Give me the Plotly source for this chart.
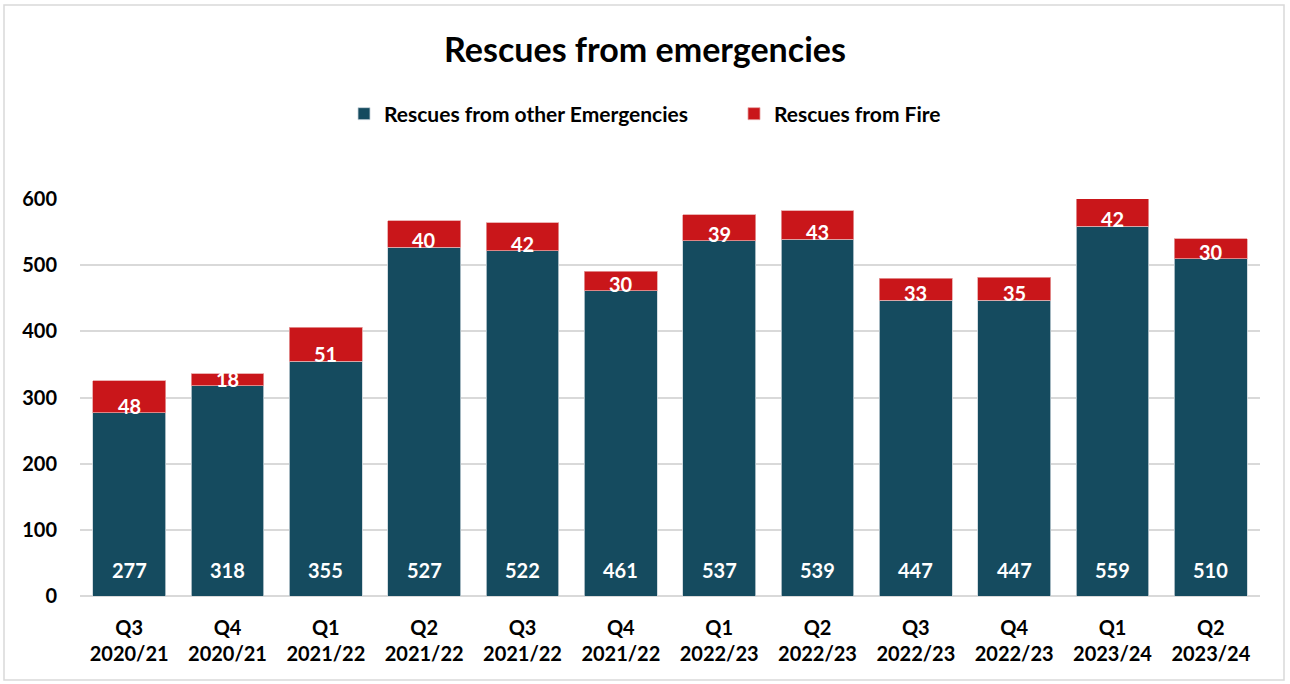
import plotly.graph_objects as go

quarters = ["Q3", "Q4", "Q1", "Q2", "Q3", "Q4", "Q1", "Q2", "Q3", "Q4", "Q1", "Q2"]
years = ["2020/21", "2020/21", "2021/22", "2021/22", "2021/22", "2021/22",
         "2022/23", "2022/23", "2022/23", "2022/23", "2023/24", "2023/24"]
other_emergencies = [277, 318, 355, 527, 522, 461, 537, 539, 447, 447, 559, 510]
fire = [48, 18, 51, 40, 42, 30, 39, 43, 33, 35, 42, 30]

categories = [f"{q}<br>{y}" for q, y in zip(quarters, years)]

TEAL = "#154b5f"
RED = "#c9161a"
FONT = "Lato"

fig = go.Figure()
fig.add_trace(go.Bar(
    x=categories, y=other_emergencies, name="<b>Rescues from other Emergencies</b>",
    marker=dict(color=TEAL, line=dict(color="#c9d3da", width=0.8)),
))
fig.add_trace(go.Bar(
    x=categories, y=fire, name="<b>Rescues from Fire</b>",
    marker=dict(color=RED, line=dict(color="#e6a0a0", width=0.8)),
))

annotations = []
for c, o, f in zip(categories, other_emergencies, fire):
    annotations.append(dict(x=c, y=0, yshift=26, text=f"<b>{o}</b>", showarrow=False,
                            font=dict(family=FONT, size=20, color="white")))
    annotations.append(dict(x=c, y=o, yshift=7, text=f"<b>{f}</b>", showarrow=False,
                            font=dict(family=FONT, size=20, color="white")))

fig.update_layout(
    width=1290, height=684,
    barmode="stack", bargap=0.26,
    paper_bgcolor="white", plot_bgcolor="white",
    margin=dict(l=80, r=30, t=199, b=88),
    font=dict(family=FONT, color="black"),
    title=dict(text="<b>Rescues from emergencies</b>", x=0.5, xanchor="center",
               xref="container", y=1 - 50 / 684, yanchor="middle",
               font=dict(family=FONT, size=34, color="black")),
    legend=dict(orientation="h", xref="container", yref="container",
                x=(359 - 15) / 1290, xanchor="left", y=1 - 114 / 684, yanchor="middle",
                entrywidth=345, entrywidthmode="pixels",
                font=dict(family=FONT, size=21, color="black"),
                traceorder="normal", itemclick=False),
    annotations=annotations,
    showlegend=True,
)
fig.update_xaxes(showgrid=False, showline=False, ticks="",
                 tickfont=dict(family=FONT, size=20, color="black", weight="bold"),
                 ticklabelstandoff=18)
fig.update_yaxes(range=[0, 600], dtick=100, showgrid=True, gridcolor="#d9d9d9",
                 gridwidth=1.5, zeroline=True, zerolinecolor="#d9d9d9", zerolinewidth=1.5,
                 showline=False, ticks="",
                 tickfont=dict(family=FONT, size=20, color="black", weight="bold"),
                 ticklabelstandoff=22)

# light frame around the chart area
fig.add_shape(type="rect", xref="paper", yref="paper",
              x0=(4 - 80) / 1180, x1=(1284 - 80) / 1180,
              y0=(596 - 680) / 397, y1=(596 - 5) / 397,
              line=dict(color="#d9d9d9", width=1.5), fillcolor="rgba(0,0,0,0)",
              layer="below")

fig.write_html("out.html")
